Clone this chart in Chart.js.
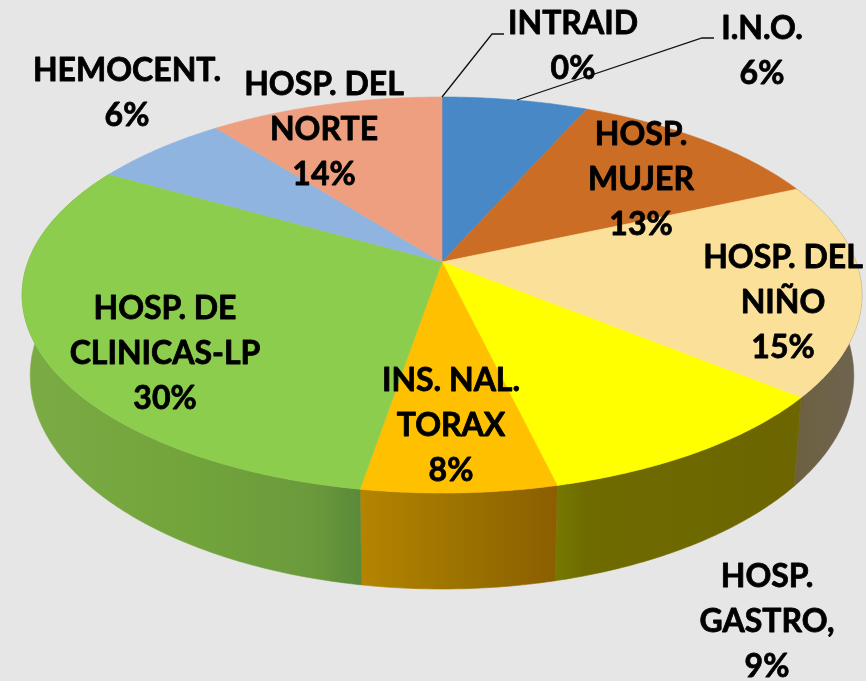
<!DOCTYPE html>
<html>
<head>
<meta charset="utf-8">
<script src="https://cdn.jsdelivr.net/npm/chart.js@4"></script>
<style>
html,body{margin:0;padding:0;background:#e6e6e6;overflow:hidden}
canvas{display:block}
</style>
</head>
<body>
<canvas id="c" width="866" height="681"></canvas>
<script>
// Data: the categories, the slice shares as drawn in the picture, and the printed percentages.
const categories = ["INTRAID","I.N.O.","HOSP. MUJER","HOSP. DEL NIÑO","HOSP. GASTRO","INS. NAL. TORAX","HOSP. DE CLINICAS-LP","HEMOCENT.","HOSP. DEL NORTE"];
const sliceShares = [0, 6.6, 11.8, 17.5, 10.4, 6.4, 30.6, 6.2, 10.6];
const printedPercents = ["0%","6%","13%","15%","9%","8%","30%","6%","14%"];
const labelNames = [["INTRAID"],["I.N.O."],["HOSP.","MUJER"],["HOSP. DEL","NIÑO"],["HOSP.","GASTRO,"],["INS. NAL.","TORAX"],["HOSP. DE","CLINICAS-LP"],["HEMOCENT."],["HOSP. DEL","NORTE"]];

// Styles and layout
const topColors = ["#4a8ac8","#4888c6","#cc6d26","#fbe09a","#ffff00","#ffc000","#8dcd4e","#8fb4e0","#ee9f7f"];
const wallStops = [
  null,null,null,
  [[0,"#6d6040"],[1,"#6f6450"]],
  [[0,"#767a00"],[0.12,"#6f6b00"],[1,"#6c6500"]],
  [[0,"#b58400"],[0.5,"#9c7300"],[1,"#8b5e00"]],
  [[0,"#7cab45"],[0.5,"#72a43b"],[0.85,"#6b9a3c"],[1,"#5a893a"]],
  null,null
];
const labelAnchors = [[573,24],[762,29],[641,135],[783,258],[767,577],[451,381],[165,309],[127,71],[324,85]];
const lineStep = 44.7;
const leaders = [[[442,97],[492,34],[504,34]],[[517,100],[702,38],[714,38]]];
const upperDisc = {cx:442, cy:262, a:414, b:192.5, k:-1/6};
const lowerDisc = {cx:442, cy:340, a:406, b:207.5, k:-1/6};

function project(d, ang){
  const u = Math.cos(ang), v = Math.sin(ang), w = 1 + d.k*v;
  return [d.cx + d.a*u/w, d.cy + d.b*v/w];
}
function arcPoints(d, s, e){
  const pts = [], n = Math.max(2, Math.ceil((e-s)/0.01));
  for(let i=0;i<=n;i++) pts.push(project(d, s+(e-s)*i/n));
  return pts;
}
function trace(ctx, pts){
  ctx.beginPath();
  pts.forEach((p,i)=> i ? ctx.lineTo(p[0],p[1]) : ctx.moveTo(p[0],p[1]));
  ctx.closePath();
}

const pie3d = {
  id:"pie3d",
  beforeDatasetDraw(chart, args){
    const ctx = chart.ctx, arcs = args.meta.data;
    ctx.save();
    // side wall
    arcs.forEach((arc,i)=>{
      const stops = wallStops[i];
      if(!stops || arc.endAngle <= arc.startAngle) return;
      const up = arcPoints(upperDisc, arc.startAngle, arc.endAngle);
      const lo = arcPoints(lowerDisc, arc.startAngle, arc.endAngle);
      const xs = up.concat(lo).map(p=>p[0]);
      const g = ctx.createLinearGradient(Math.min(...xs),0,Math.max(...xs),0);
      stops.forEach(s=>g.addColorStop(s[0],s[1]));
      trace(ctx, up.concat(lo.slice().reverse()));
      ctx.fillStyle = g; ctx.fill();
      ctx.strokeStyle = g; ctx.lineWidth = 0.6; ctx.stroke();
    });
    // top face
    arcs.forEach((arc,i)=>{
      if(arc.endAngle <= arc.startAngle) return;
      const pts = [[upperDisc.cx,upperDisc.cy]].concat(arcPoints(upperDisc, arc.startAngle, arc.endAngle));
      trace(ctx, pts);
      ctx.fillStyle = topColors[i]; ctx.fill();
      ctx.strokeStyle = topColors[i]; ctx.lineWidth = 0.6; ctx.stroke();
    });
    ctx.restore();
    return false;
  },
  afterDatasetsDraw(chart){
    const ctx = chart.ctx;
    ctx.save();
    ctx.strokeStyle = "#111"; ctx.lineWidth = 1.3;
    leaders.forEach(l=>{
      ctx.beginPath();
      l.forEach((p,i)=> i ? ctx.lineTo(p[0],p[1]) : ctx.moveTo(p[0],p[1]));
      ctx.stroke();
    });
    ctx.fillStyle = "#000";
    ctx.strokeStyle = "#000";
    ctx.lineWidth = 0.8;
    ctx.lineJoin = "round";
    ctx.font = "bold 32px Lato, 'Open Sans', sans-serif";
    ctx.textAlign = "center";
    ctx.textBaseline = "middle";
    categories.forEach((c,i)=>{
      const lines = labelNames[i].concat(printedPercents[i]);
      lines.forEach((t,j)=>{
        const x = labelAnchors[i][0], y = labelAnchors[i][1] + j*lineStep;
        ctx.fillText(t, x, y);
        ctx.strokeText(t, x, y);
      });
    });
    ctx.restore();
  }
};

new Chart(document.getElementById("c"), {
  type:"pie",
  data:{labels:categories, datasets:[{data:sliceShares, backgroundColor:topColors, borderWidth:0}]},
  options:{
    responsive:false, animation:false,
    plugins:{legend:{display:false}, tooltip:{enabled:false}}
  },
  plugins:[pie3d]
});
</script>
</body>
</html>
